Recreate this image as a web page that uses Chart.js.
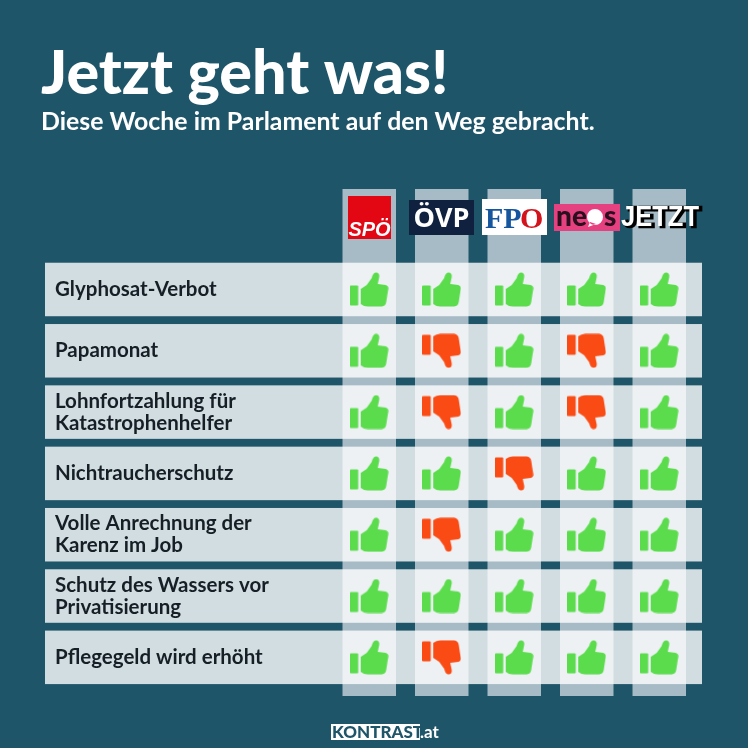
<!DOCTYPE html>
<html lang="de">
<head>
<meta charset="utf-8">
<title>Jetzt geht was!</title>
<script src="https://cdn.jsdelivr.net/npm/chart.js@4/dist/chart.umd.js"></script>
<style>
    html, body { margin: 0; padding: 0; background: #1f5569; }
    canvas { display: block; }
</style>
</head>
<body>
<canvas id="votes" width="748" height="748"></canvas>
<script>
// Wer hat wofuer gestimmt - Zeilen von oben nach unten
const parties = ['SPÖ', 'ÖVP', 'FPÖ', 'NEOS', 'JETZT'];
const topics = [
    'Glyphosat-Verbot',
    'Papamonat',
    'Lohnfortzahlung für\nKatastrophenhelfer',
    'Nichtraucherschutz',
    'Volle Anrechnung der\nKarenz im Job',
    'Schutz des Wassers vor\nPrivatisierung',
    'Pflegegeld wird erhöht'
];
const spoVotes   = ['ja', 'ja', 'ja', 'ja', 'ja', 'ja', 'ja'];
const oevpVotes  = ['ja', 'nein', 'nein', 'ja', 'nein', 'ja', 'nein'];
const fpoeVotes  = ['ja', 'ja', 'ja', 'nein', 'ja', 'ja', 'ja'];
const neosVotes  = ['ja', 'nein', 'nein', 'ja', 'ja', 'ja', 'ja'];
const jetztVotes = ['ja', 'ja', 'ja', 'ja', 'ja', 'ja', 'ja'];
const allVotes = [spoVotes, oevpVotes, fpoeVotes, neosVotes, jetztVotes];

const GREEN = '#5bdc4c';
const RED = '#fb4b14';

// thumb icon as a point style, box 39x35, flipped for nein
function makeThumb(color, flip) {
    const c = document.createElement('canvas');
    c.width = 39;
    c.height = 35;
    const g = c.getContext('2d');
    if (flip) {
        g.translate(0, 35);
        g.scale(1, -1);
    }
    g.fillStyle = color;
    g.beginPath();
    g.roundRect(0, 13.5, 8.5, 20, 1);
    g.fill();
    g.fill(new Path2D('M11 17 L17 13 L22 6 Q23 1 26 .5 Q30 .5 29.5 5 L28 12 L36 13 Q39 14 38.5 17 L36.5 30 Q36 34 32 34.5 L18 34.5 Q14 34.5 11 32 Z'));
    return c;
}
const thumbUp = makeThumb(GREEN, false);
const thumbDown = makeThumb(RED, true);

// column stripes, row bands and party logos sit behind / above the grid
const tablePlugin = {
    id: 'table',
    beforeDraw(chart) {
        const {ctx, scales: {x, y}} = chart;
        const colW = 53.5;
        const rowH = 53.5;
        ctx.save();
        ctx.fillStyle = '#a6bbc6';
        parties.forEach((p, i) => {
            ctx.fillRect(x.getPixelForValue(i) - colW / 2, 189, colW, 507);
        });
        ctx.fillStyle = 'rgba(255,255,255,0.8)';
        topics.forEach((t, i) => {
            ctx.fillRect(45, y.getPixelForValue(i) - rowH / 2, 657, rowH);
        });
        ctx.restore();
    },
    afterDraw(chart) {
        const {ctx} = chart;
        ctx.save();
        ctx.textBaseline = 'alphabetic';
        ctx.textAlign = 'center';

        // SPÖ
        ctx.fillStyle = '#e30613';
        ctx.fillRect(348, 196, 43, 43);
        ctx.fillStyle = '#fff';
        ctx.font = 'italic 700 20px "Liberation Sans"';
        ctx.fillText('SPÖ', 369.5, 236);

        // ÖVP
        ctx.fillStyle = '#10213f';
        ctx.fillRect(409, 200, 65, 35);
        ctx.fillStyle = '#fff';
        ctx.font = '700 27px "Open Sans"';
        ctx.fillText('ÖVP', 441.5, 227);

        // FPÖ
        ctx.fillStyle = '#fff';
        ctx.fillRect(482, 199, 65, 36);
        ctx.font = '700 30px "Liberation Serif"';
        ctx.textAlign = 'left';
        ctx.fillStyle = '#15569f';
        ctx.fillText('FP', 485, 228);
        ctx.fillStyle = '#d3141c';
        ctx.fillText('O', 520, 228);

        // NEOS
        ctx.fillStyle = '#e5407f';
        ctx.fillRect(554, 204, 66, 27);
        ctx.fillStyle = '#2a0f1e';
        ctx.font = '900 28px Lato';
        ctx.fillText('ne', 556, 226);
        ctx.fillText('s', 604, 226);
        ctx.fillStyle = '#fff';
        ctx.beginPath();
        ctx.arc(595, 217, 8, 0, Math.PI * 2);
        ctx.moveTo(590, 222);
        ctx.lineTo(588, 227);
        ctx.lineTo(596, 224);
        ctx.fill();

        // JETZT, white letters with a heavy black shadow
        ctx.save();
        ctx.translate(660, 227);
        ctx.scale(0.85, 1);
        ctx.font = '900 30px "Liberation Sans"';
        ctx.textAlign = 'center';
        ctx.fillStyle = '#000';
        ctx.strokeStyle = '#000';
        ctx.lineWidth = 2.5;
        ctx.strokeText('JETZT', 3, 0);
        ctx.fillText('JETZT', 3, 0);
        ctx.fillStyle = '#fff';
        ctx.fillText('JETZT', 0, -1);
        ctx.restore();

        // footer
        ctx.fillStyle = '#fff';
        ctx.fillRect(331, 724, 89, 16);
        ctx.font = '900 17px Lato';
        ctx.textAlign = 'left';
        ctx.fillStyle = '#1f5569';
        ctx.fillText('KONTRAST', 332, 738);
        ctx.fillStyle = '#fff';
        ctx.font = '700 17px Lato';
        ctx.fillText('.at', 420, 738);
        ctx.restore();
    }
};

new Chart(document.getElementById('votes'), {
    type: 'line',
    data: {
        xLabels: parties,
        yLabels: topics,
        datasets: allVotes.map((votes, p) => ({
            label: parties[p],
            data: votes.map((v, t) => ({x: parties[p], y: topics[t]})),
            showLine: false,
            pointStyle: votes.map(v => v === 'ja' ? thumbUp : thumbDown)
        }))
    },
    options: {
        responsive: false,
        animation: false,
        layout: {padding: {left: 41, right: 52.5, top: 44, bottom: 60}},
        plugins: {
            legend: {display: false},
            tooltip: {enabled: false},
            title: {
                display: true,
                text: 'Jetzt geht was!',
                align: 'start',
                color: '#fff',
                font: {family: 'Lato', size: 61, weight: '900', lineHeight: 1},
                padding: {top: 0, bottom: 2}
            },
            subtitle: {
                display: true,
                text: 'Diese Woche im Parlament auf den Weg gebracht.',
                align: 'start',
                color: '#fff',
                font: {family: 'Lato', size: 24.85, weight: '700', lineHeight: 1.2},
                padding: {top: 0, bottom: 122}
            }
        },
        scales: {
            x: {
                type: 'category',
                labels: parties,
                display: false,
                offset: true
            },
            y: {
                type: 'category',
                labels: topics,
                offset: true,
                grid: {display: false},
                border: {display: false},
                afterFit: scale => { scale.width = 292; },
                ticks: {
                    mirror: true,
                    padding: -278,
                    autoSkip: false,
                    color: '#161f26',
                    font: {family: 'Lato', size: 20.5, weight: '700', lineHeight: 1.07},
                    callback: (v, i) => topics[i].split('\n')
                }
            }
        }
    },
    plugins: [tablePlugin]
});
</script>
</body>
</html>
